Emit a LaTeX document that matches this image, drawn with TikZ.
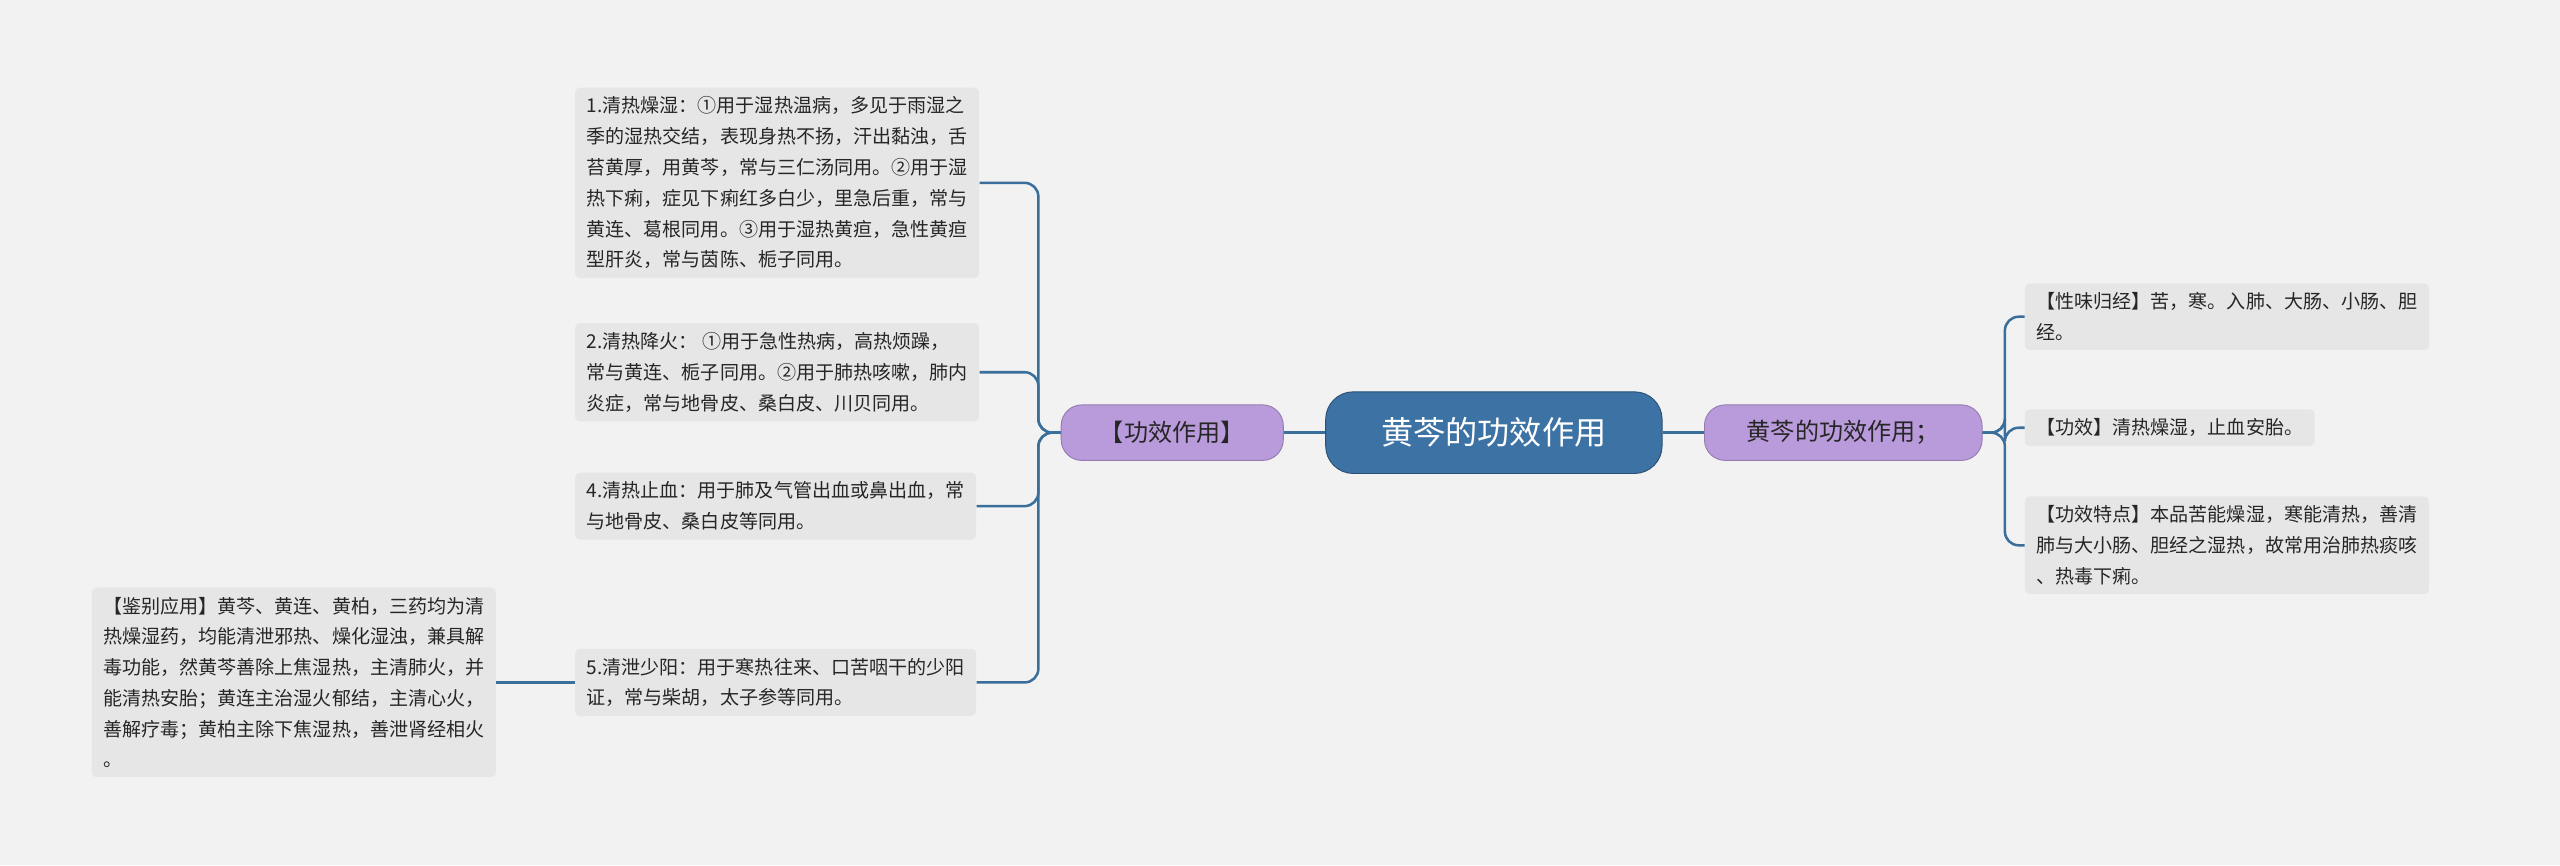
\documentclass[tikz,border=0pt]{standalone}
\usepackage{fontspec}
\setmainfont{Noto Sans CJK SC}
\definecolor{bgc}{HTML}{F2F2F2}
\definecolor{leafc}{HTML}{E6E6E6}
\definecolor{linec}{HTML}{3A6F9C}
\definecolor{rootc}{HTML}{3D72A4}
\definecolor{midc}{HTML}{B99BDC}
\tikzset{
  leaf/.style={fill=leafc, rounded corners=2pt, align=left, anchor=west,
    inner xsep=5pt, inner ysep=4pt, font=\fontsize{8.3}{13.4}\selectfont, text=black!85},
  mid/.style={fill=midc, draw=midc!80!black, rounded corners=9pt, minimum width=3.4cm,
    minimum height=0.85cm, font=\fontsize{10.5}{12}\selectfont, text=black!85},
  conn/.style={draw=linec, line width=1.1pt, rounded corners=6pt}
}
\begin{document}
\begin{tikzpicture}[x=0.025cm, y=-0.025cm]
  \fill[bgc] (0,0) rectangle (1568,530);
  \useasboundingbox (0,0) rectangle (1568,530);

  \node[fill=rootc, draw=rootc!70!black, rounded corners=12pt, minimum width=5.15cm,
    minimum height=1.25cm, text=white, font=\fontsize{14}{16}\selectfont] (root) at (915,265) {黄芩的功效作用};
  \node[mid] (lft) at (718,265) {【功效作用】};
  \node[mid, minimum width=4.25cm] (rgt) at (1129,265) {黄芩的功效作用；};

  % left leaves
  \node[leaf] (a) at (352,112) {1.清热燥湿：①用于湿热温病，多见于雨湿之\\季的湿热交结，表现身热不扬，汗出黏浊，舌\\苔黄厚，用黄芩，常与三仁汤同用。②用于湿\\热下痢，症见下痢红多白少，里急后重，常与\\黄连、葛根同用。③用于湿热黄疸，急性黄疸\\型肝炎，常与茵陈、栀子同用。};
  \node[leaf] (b) at (352,228) {2.清热降火：  ①用于急性热病，高热烦躁，\\常与黄连、栀子同用。②用于肺热咳嗽，肺内\\炎症，常与地骨皮、桑白皮、川贝同用。};
  \node[leaf] (c) at (352,310) {4.清热止血：用于肺及气管出血或鼻出血，常\\与地骨皮、桑白皮等同用。};
  \node[leaf] (d) at (352,418) {5.清泄少阳：用于寒热往来、口苦咽干的少阳\\证，常与柴胡，太子参等同用。};
  \node[leaf] (e) at (56,418) {【鉴别应用】黄芩、黄连、黄柏，三药均为清\\热燥湿药，均能清泄邪热、燥化湿浊，兼具解\\毒功能，然黄芩善除上焦湿热，主清肺火，并\\能清热安胎；黄连主治湿火郁结，主清心火，\\善解疗毒；黄柏主除下焦湿热，善泄肾经相火\\。};

  % right leaves
  \node[leaf] (r1) at (1240,194) {【性味归经】苦，寒。入肺、大肠、小肠、胆\\经。};
  \node[leaf] (r2) at (1240,262) {【功效】清热燥湿，止血安胎。};
  \node[leaf] (r3) at (1240,334) {【功效特点】本品苦能燥湿，寒能清热，善清\\肺与大小肠、胆经之湿热，故常用治肺热痰咳\\、热毒下痢。};

  \draw[conn] (root.west) -- (lft.east);
  \draw[conn] (root.east) -- (rgt.west);
  \foreach \n in {a,b,c,d}
    \draw[conn] (lft.west) -- (636,265) |- (\n.east);
  \draw[conn] (d.west) -- (e.east);
  \foreach \n in {r1,r2,r3}
    \draw[conn] (rgt.east) -- (1228,265) |- (\n.west);
\end{tikzpicture}
\end{document}
